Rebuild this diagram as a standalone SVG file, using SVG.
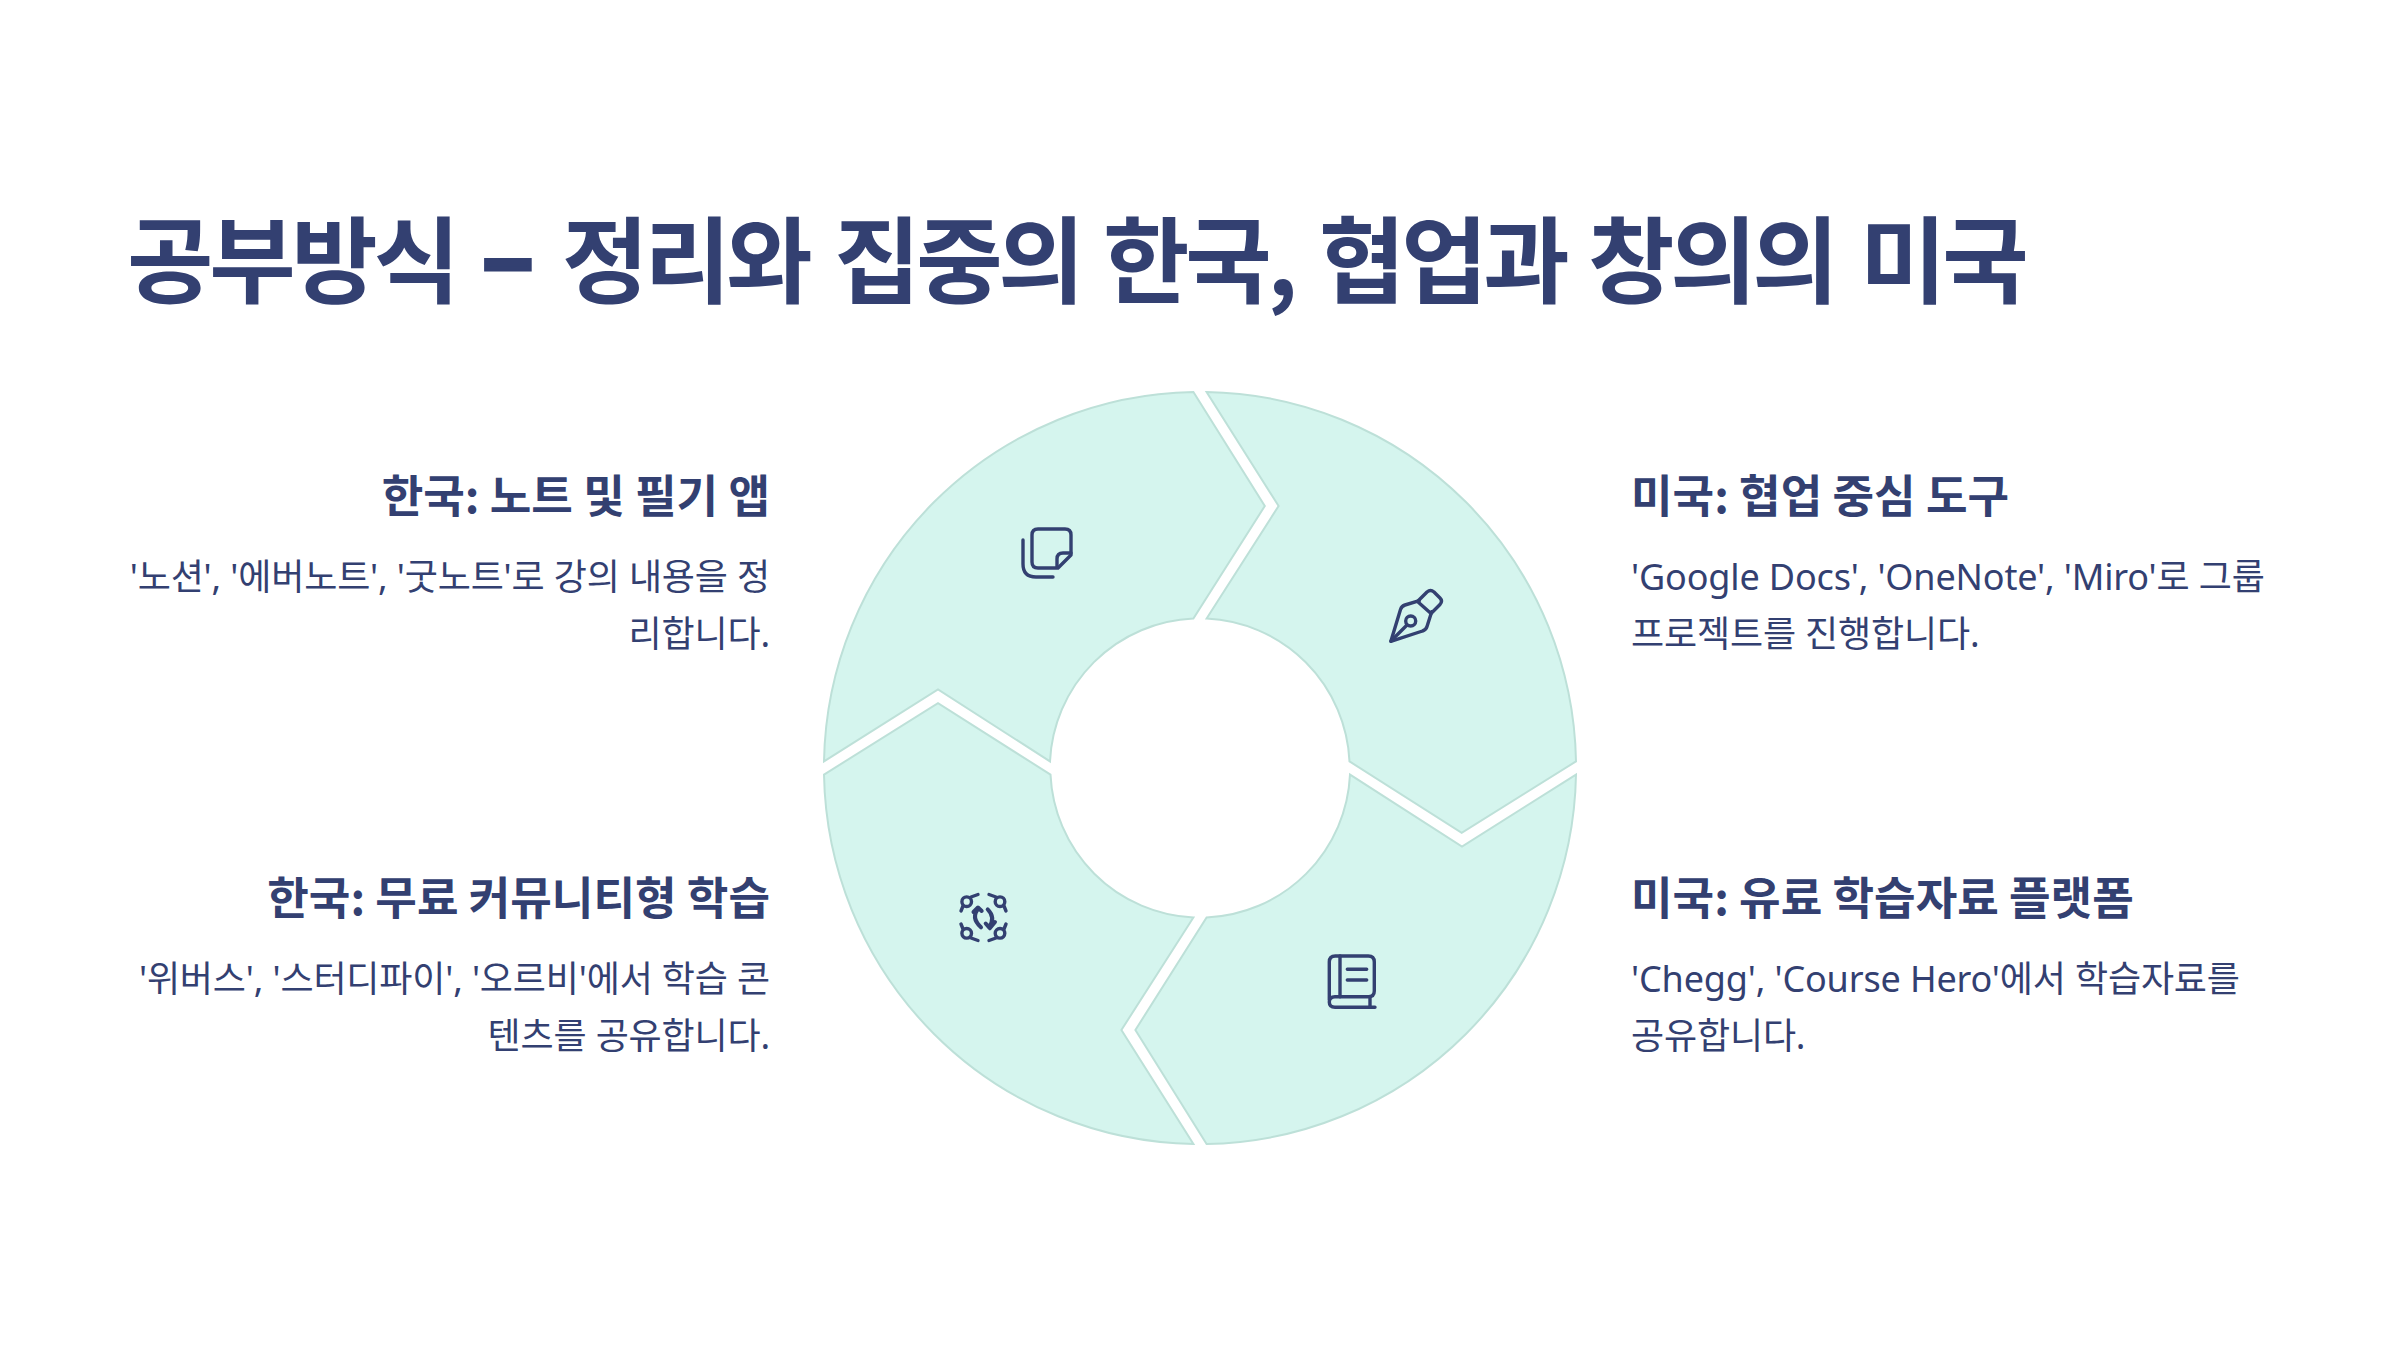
<svg xmlns="http://www.w3.org/2000/svg" width="2400" height="1350" viewBox="0 0 2400 1350">
<style>
text{fill:#334071;font-family:"Noto Sans","Noto Sans CJK KR",sans-serif}
.t{font-family:"Noto Sans CJK KR",sans-serif;font-weight:700;font-size:94px;letter-spacing:-4.3px}
.d{font-family:"Liberation Sans",sans-serif;font-size:86px;stroke:#334071;stroke-width:5}
.h{font-family:"Noto Sans CJK KR",sans-serif;font-weight:700;font-size:45.2px}
.b{font-size:36px;letter-spacing:-.15px}
.e{text-anchor:end}
.seg{fill:#d5f5ee;stroke:#bde0d8;stroke-width:2}
.ic{fill:none;stroke:#334071;stroke-width:3.4;stroke-linecap:round;stroke-linejoin:round}
.ar{stroke-width:4}
</style>
<rect width="2400" height="1350" fill="#fff"/>
<text id="title" class="t" y="296"><tspan x="127">공부방식</tspan> <tspan class="d" x="484" y="288">–</tspan> <tspan x="562" y="296">정리와</tspan> <tspan x="834">집중의</tspan> <tspan x="1103">한국,</tspan> <tspan x="1319">협업과</tspan> <tspan x="1588">창의의</tspan> <tspan x="1860">미국</tspan></text>
<g id="node-ko-notes">
<path class="seg" d="M1193.4 392L1264.8 506L1193.4 618.5A150 150 0 0 0 1050 761.4L938 689.4L824 761.4A376 376 0 0 1 1193.4 392Z"/>
<g class="ic"><path d="M1038 529H1065Q1071 529 1071 535V555L1058 568H1038Q1032 568 1032 562V535Q1032 529 1038 529Z"/><path d="M1057 567V559Q1057 553 1063 553H1071"/><path d="M1023 540V564Q1023 577 1036 577H1053"/></g>
<text class="h e" x="770" y="513">한국: 노트 및 필기 앱</text>
<text class="b e" x="770" y="590">'노션', '에버노트', '굿노트'로 강의 내용을 정</text>
<text class="b e" x="770" y="647">리합니다.</text>
</g>
<g id="node-us-collab">
<path class="seg" d="M1206.6 392A376 376 0 0 1 1576 761.4L1461.7 832.8L1349.5 761.4A150 150 0 0 0 1206.6 618.5L1278.6 506Z"/>
<g class="ic"><path d="M1419.3 600.7L1405 605Q1401.7 606 1400.5 609.5L1390.8 641.4L1422.5 631Q1426 630 1427 626.5L1431.7 611.7"/><path d="M1417.5 601.5L1427 592Q1430.5 589 1434 592L1440 598Q1443 601 1440 604.5L1431 613.5Z"/><circle cx="1410.7" cy="621" r="5"/><path d="M1391 641L1407 625"/></g>
<text class="h" x="1631" y="513">미국: 협업 중심 도구</text>
<text class="b" x="1631" y="590">'Google Docs', 'OneNote', 'Miro'로 그룹</text>
<text class="b" x="1631" y="647">프로젝트를 진행합니다.</text>
</g>
<g id="node-us-paid">
<path class="seg" d="M1576 774.6A376 376 0 0 1 1206.6 1144L1135.4 1030L1206.6 917.5A150 150 0 0 0 1350 774.6L1462 846.6Z"/>
<g class="ic"><path d="M1329.3 1000V962Q1329.3 956 1335.3 956H1368.3Q1374.3 956 1374.3 962V991Q1374.3 996.7 1368.3 996.7H1335Q1329.3 996.7 1329.3 1002Q1329.3 1007.3 1335 1007.3H1375"/><path d="M1340 956V996.7M1347.3 969.3H1366.7M1347.3 980H1366.7M1370 997V1007"/></g>
<text class="h" x="1631" y="915">미국: 유료 학습자료 플랫폼</text>
<text class="b" x="1631" y="992">'Chegg', 'Course Hero'에서 학습자료를</text>
<text class="b" x="1631" y="1049">공유합니다.</text>
</g>
<g id="node-ko-community">
<path class="seg" d="M824 774.6L938 703.2L1050.5 774.6A150 150 0 0 0 1193.4 917.5L1121.4 1030L1193.4 1144A376 376 0 0 1 824 774.6Z"/>
<g class="ic"><circle cx="966.7" cy="901.7" r="4.8"/><circle cx="1000" cy="901.7" r="4.8"/><circle cx="966.7" cy="933.3" r="4.8"/><circle cx="1000" cy="933.3" r="4.8"/><path d="M971 897L978 894.5M961 911L963 906M996 897L989 894.5M1006 911L1004 906M961 924L963 929M971 938L978 940.5M1006 924L1004 929M996 938L989 940.5"/><g class="ar"><path d="M978.3 909Q970.5 917.5 981 927.3M973.5 912L978 907.5L981.7 911"/><path d="M987.7 909.3Q996 917.5 989 927.3M985.7 923.5L989.8 928.3L995 922"/></g></g>
<text class="h e" x="770" y="915">한국: 무료 커뮤니티형 학습</text>
<text class="b e" x="770" y="992">'위버스', '스터디파이', '오르비'에서 학습 콘</text>
<text class="b e" x="770" y="1049">텐츠를 공유합니다.</text>
</g>
<g id="connectors"/>
</svg>
